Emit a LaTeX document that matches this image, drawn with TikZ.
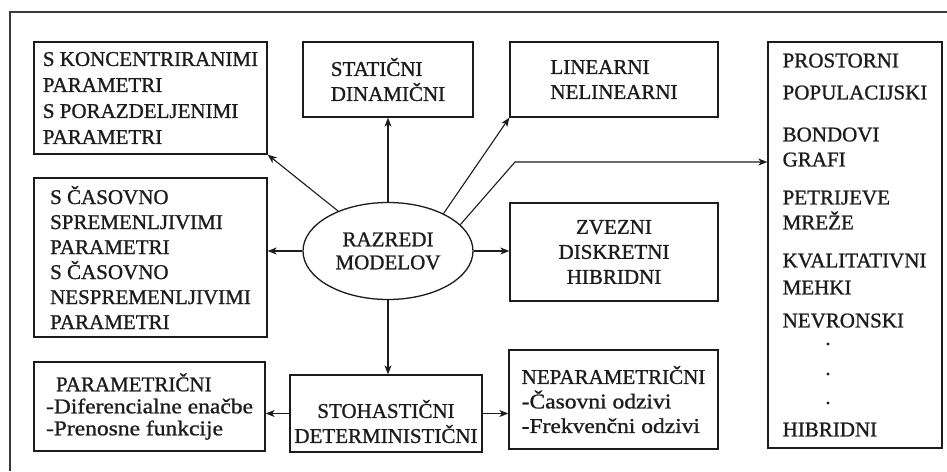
\documentclass[tikz,border=0pt]{standalone}
\usepackage{fontspec}
\setmainfont{Liberation Serif}[FakeBold=1]
\newfontfamily\widerm{Liberation Serif}[FakeStretch=1.12,FakeBold=1]
\usetikzlibrary{arrows.meta,shapes.geometric}
\definecolor{ink}{HTML}{1C1C1C}
\definecolor{framegray}{HTML}{3A3A3A}
\newcommand{\lsz}[1]{\fontsize{21}{#1}\selectfont}

\begin{document}
\begin{tikzpicture}[x=1pt,y=-1pt,
  every node/.style={text=ink, inner sep=0pt},
  box/.style={draw=ink, line width=1.3pt, rectangle},
  oval/.style={draw=ink, line width=1.3pt, ellipse},
  arr/.style={draw=ink, line width=1.1pt, -{Stealth[length=9pt,width=7pt,inset=2.5pt]}}]

  \useasboundingbox (0,0) rectangle (947,471);
  \fill[white] (0,0) rectangle (947,471);

  % page frame (left and top edges only)
  \draw[framegray, line width=1.2pt] (10,471) -- (10,12) -- (947,12);

  % central class node
  \node[oval, minimum width=170, minimum height=97, align=center, font=\lsz{23}]
    (ell) at (388,251) {RAZREDI\\MODELOV};

  % surrounding boxes
  \node[box, minimum width=233, minimum height=112, align=left, font=\lsz{26}]
    (conc) at (150.5,98) {S KONCENTRIRANIMI\\PARAMETRI\\S PORAZDELJENIMI\\PARAMETRI};
  \node[box, minimum width=170, minimum height=75, align=left, font=\lsz{25}]
    (stat) at (388,79.5) {STATIČNI\\DINAMIČNI};
  \node[box, minimum width=208, minimum height=75, align=left, font=\lsz{25}]
    (lin) at (614,79.5) {LINEARNI\\NELINEARNI};
  \node[box, minimum width=233, minimum height=159, align=left, font=\lsz{25}]
    (cas) at (150.5,257.5) {S ČASOVNO\\SPREMENLJIVIMI\\PARAMETRI\\S ČASOVNO\\NESPREMENLJIVIMI\\PARAMETRI};
  \node[box, minimum width=208, minimum height=98, align=center, font=\lsz{25}]
    (zvez) at (614,252) {ZVEZNI\\DISKRETNI\\HIBRIDNI};
  \node[box, minimum width=231, minimum height=89, align=left, font=\lsz{22}]
    (par) at (149.5,406.5) {\hspace*{10pt}PARAMETRIČNI\\{\widerm -Diferencialne enačbe}\\{\widerm -Prenosne funkcije}};
  % the strut pushes the two lines towards the lower edge
  \node[box, minimum width=192, minimum height=77, align=center, font=\lsz{25}]
    (stoh) at (386,413.5) {\rule{0pt}{34pt}STOHASTIČNI\\DETERMINISTIČNI};
  \node[box, minimum width=209, minimum height=99, align=left, font=\lsz{24.5}]
    (nepar) at (613.5,399.5) {NEPARAMETRIČNI\\{\widerm -Časovni odzivi}\\{\widerm -Frekvenčni odzivi}};
  % list of model types; the gap before the last entry holds an ellipsis
  \node[box, minimum width=174, minimum height=406, align=left, font=\lsz{25}]
    (vrste) at (855,245) {PROSTORNI\\[7pt]
      POPULACIJSKI\\[17pt]
      BONDOVI\\
      GRAFI\\[13pt]
      PETRIJEVE\\
      MREŽE\\[13pt]
      KVALITATIVNI\\[2pt]
      MEHKI\\[8pt]
      NEVRONSKI\\[84pt]
      HIBRIDNI};
  \foreach \yy in {344,374,403} \fill[ink] (828,\yy) circle (1.6);

  % connectors
  \coordinate (bend) at (515,162);
  \draw[arr] (ell) -- (conc.south east);
  \draw[arr] (ell.north) -- (stat.south);
  \draw[arr] (ell.34) -- (lin.south west);
  \draw[arr] (ell.20) -- (bend) -- (bend -| vrste.west);
  \draw[arr] (ell.west) -- (ell.west -| cas.east);
  \draw[arr] (ell.east) -- (ell.east -| zvez.west);
  \draw[arr] (ell.south) -- (ell.south |- stoh.north);
  \draw[arr] (stoh.west) -- (stoh.west -| par.east);
  \draw[arr] (stoh.east) -- (stoh.east -| nepar.west);
\end{tikzpicture}
\end{document}
